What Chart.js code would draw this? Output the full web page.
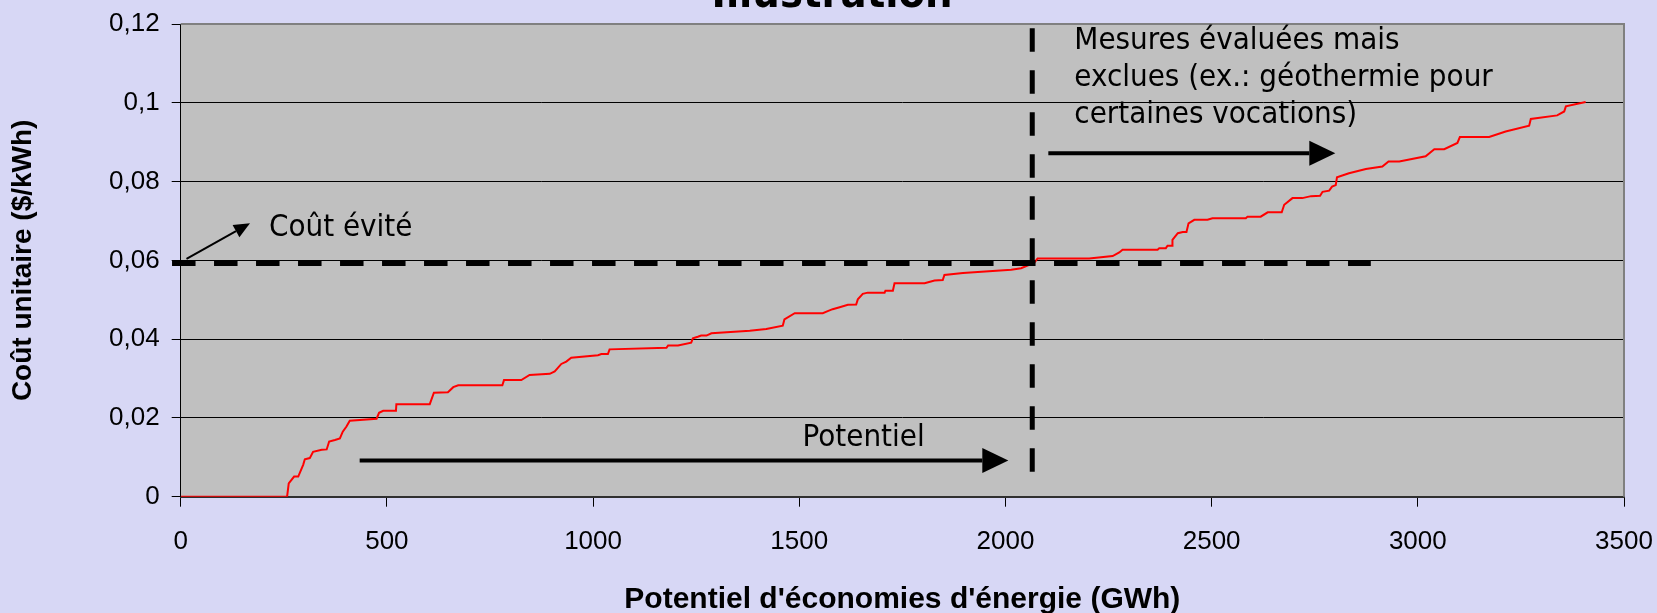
<!DOCTYPE html>
<html>
<head>
<meta charset="utf-8">
<title>Illustration</title>
<script src="https://cdn.jsdelivr.net/npm/chart.js@4.4.0/dist/chart.umd.min.js"></script>
<style>
  html, body { margin: 0; padding: 0; background: #d7d7f5; }
  #wrap { width: 1657px; height: 613px; }
</style>
</head>
<body>
<div id="wrap"><canvas id="chart" width="1657" height="613"></canvas></div>
<script>
// Supply curve: cumulative energy savings (GWh) vs unit cost ($/kWh)
const energyGWh = [0, 258, 262, 275, 285, 297, 301, 313, 321, 342, 354, 360, 374, 386, 393, 402, 410, 475, 481, 491,
  522, 523, 604, 614, 648, 661, 673, 780, 784, 826, 846, 895, 907, 923, 935, 947, 1012, 1020, 1036, 1040,
  1178, 1182, 1206, 1238, 1242, 1254, 1262, 1275, 1287, 1380, 1420, 1460, 1464, 1489, 1557, 1569, 1581, 1598, 1618, 1638,
  1642, 1654, 1666, 1707, 1709, 1727, 1731, 1804, 1828, 1848, 1852, 1880, 1897, 2014, 2038, 2070, 2078, 2203, 2260, 2276,
  2284, 2369, 2373, 2389, 2393, 2404, 2405, 2418, 2430, 2439, 2444, 2458, 2490, 2502, 2583, 2587, 2619, 2636, 2670, 2676,
  2696, 2720, 2741, 2763, 2769, 2785, 2792, 2801, 2804, 2833, 2874, 2914, 2929, 2955, 3019, 3040, 3064, 3096, 3102, 3173,
  3213, 3270, 3274, 3338, 3355, 3359, 3407];
const unitCost = [0, 0, 0.0034, 0.0051, 0.0051, 0.0081, 0.0095, 0.0098, 0.0114, 0.0119, 0.0120, 0.0140, 0.0144, 0.0148, 0.0165, 0.0178, 0.0193, 0.0198, 0.0213, 0.0218,
  0.0218, 0.0235, 0.0235, 0.0264, 0.0265, 0.0278, 0.0283, 0.0283, 0.0296, 0.0296, 0.0309, 0.0312, 0.0318, 0.0337, 0.0343, 0.0353, 0.0359, 0.0362, 0.0362, 0.0374,
  0.0378, 0.0384, 0.0384, 0.0391, 0.0402, 0.0406, 0.0409, 0.0409, 0.0415, 0.0421, 0.0426, 0.0434, 0.0450, 0.0466, 0.0466, 0.0471, 0.0476, 0.0481, 0.0487, 0.0488,
  0.0501, 0.0515, 0.0518, 0.0518, 0.0523, 0.0523, 0.0542, 0.0542, 0.0549, 0.0550, 0.0563, 0.0566, 0.0568, 0.0576, 0.0580, 0.0594, 0.0605, 0.0605, 0.0611, 0.0620,
  0.0627, 0.0627, 0.0631, 0.0631, 0.0637, 0.0637, 0.0652, 0.0669, 0.0672, 0.0672, 0.0694, 0.0703, 0.0703, 0.0707, 0.0707, 0.0711, 0.0711, 0.0722, 0.0722, 0.0741,
  0.0758, 0.0758, 0.0763, 0.0764, 0.0774, 0.0777, 0.0787, 0.0791, 0.0811, 0.0821, 0.0832, 0.0838, 0.0851, 0.0851, 0.0864, 0.0882, 0.0882, 0.0898, 0.0913, 0.0913,
  0.0927, 0.0942, 0.0959, 0.0968, 0.0978, 0.0991, 0.1002];

const xTickLabels = ['0', '500', '1000', '1500', '2000', '2500', '3000', '3500'];
const yTickLabels = ['0', '0,02', '0,04', '0,06', '0,08', '0,1', '0,12'];

const avoidedCost = 0.0593;     // horizontal dashed line
const potentialLimit = 2065;    // vertical dashed line

const annoFont = '"DejaVu Sans Condensed", "DejaVu Sans", sans-serif';
const axisFont = '"Liberation Sans", Arial, sans-serif';

// arrow with filled head, coordinates in pixels
function arrow(ctx, x1, y1, x2, y2, w, headLen, headHalf) {
  const a = Math.atan2(y2 - y1, x2 - x1);
  const bx = x2 - headLen * Math.cos(a), by = y2 - headLen * Math.sin(a);
  ctx.save();
  ctx.strokeStyle = '#000';
  ctx.fillStyle = '#000';
  ctx.lineWidth = w;
  ctx.beginPath();
  ctx.moveTo(x1, y1);
  ctx.lineTo(bx, by);
  ctx.stroke();
  ctx.beginPath();
  ctx.moveTo(x2, y2);
  ctx.lineTo(bx + headHalf * Math.sin(a), by - headHalf * Math.cos(a));
  ctx.lineTo(bx - headHalf * Math.sin(a), by + headHalf * Math.cos(a));
  ctx.closePath();
  ctx.fill();
  ctx.restore();
}

const decor = {
  id: 'decor',
  beforeDraw(chart) {
    const { ctx, chartArea: a } = chart;
    ctx.save();
    ctx.fillStyle = '#c0c0c0';
    ctx.fillRect(a.left, a.top, a.right - a.left, a.bottom - a.top);
    ctx.restore();
  },
  afterDatasetsDraw(chart) {
    const { ctx, chartArea: a } = chart;
    const x = chart.scales.x, y = chart.scales.y;
    ctx.save();
    // dashed lines
    ctx.strokeStyle = '#000';
    ctx.lineCap = 'butt';
    ctx.setLineDash([23.5, 18.5]);
    ctx.lineWidth = 6;
    const yc = y.getPixelForValue(avoidedCost);
    ctx.beginPath();
    ctx.moveTo(x.getPixelForValue(-21), yc);
    ctx.lineTo(x.getPixelForValue(2886), yc);
    ctx.stroke();
    ctx.lineWidth = 5;
    const xp = x.getPixelForValue(potentialLimit);
    ctx.beginPath();
    ctx.moveTo(xp, y.getPixelForValue(0.1189));
    ctx.lineTo(xp, y.getPixelForValue(0.0063));
    ctx.stroke();
    ctx.setLineDash([]);

    // top / right frame
    ctx.strokeStyle = '#808080';
    ctx.lineWidth = 2;
    ctx.beginPath();
    ctx.moveTo(a.left, a.top);
    ctx.lineTo(a.right, a.top);
    ctx.lineTo(a.right, a.bottom);
    ctx.stroke();

    // arrows
    arrow(ctx, x.getPixelForValue(14), y.getPixelForValue(0.0604), x.getPixelForValue(168), y.getPixelForValue(0.0694), 2, 16, 7);
    arrow(ctx, x.getPixelForValue(434), y.getPixelForValue(0.0092), x.getPixelForValue(2007), y.getPixelForValue(0.0092), 4, 26, 12.5);
    arrow(ctx, x.getPixelForValue(2104), y.getPixelForValue(0.0872), x.getPixelForValue(2800), y.getPixelForValue(0.0872), 4, 26, 12.5);

    // labels
    ctx.fillStyle = '#000';
    ctx.font = '31px ' + annoFont;
    ctx.textAlign = 'left';
    ctx.textBaseline = 'alphabetic';
    ctx.fillText('Coût évité', x.getPixelForValue(214), y.getPixelForValue(0.0663));
    ctx.fillText('Potentiel', x.getPixelForValue(1508), y.getPixelForValue(0.0128));
    const mx = x.getPixelForValue(2167);
    const my = y.getPixelForValue(0.1136);
    ctx.fillText('Mesures évaluées mais', mx, my);
    ctx.fillText('exclues (ex.: géothermie pour', mx, my + 37);
    ctx.fillText('certaines vocations)', mx, my + 74);

    // title, cut off at the top of the slide
    ctx.font = 'bold 43px ' + annoFont;
    ctx.textAlign = 'center';
    ctx.fillText('Illustration', 832, 7);
    ctx.restore();
  }
};

const points = energyGWh.map((e, i) => ({ x: e, y: unitCost[i] }));

new Chart(document.getElementById('chart'), {
  type: 'line',
  data: {
    datasets: [{
      data: points,
      borderColor: '#ff0000',
      borderWidth: 2,
      pointRadius: 0,
      tension: 0,
      fill: false
    }]
  },
  options: {
    responsive: false,
    animation: false,
    layout: { padding: { top: 24, right: 33, left: 0, bottom: 0 } },
    plugins: { legend: { display: false }, tooltip: { enabled: false } },
    scales: {
      x: {
        type: 'linear',
        min: 0,
        max: 3500,
        afterFit: s => { s.height = 116.3; s.paddingLeft = 0; s.paddingRight = 0; },
        ticks: {
          stepSize: 500,
          autoSkip: false,
          maxRotation: 0,
          padding: 20,
          color: '#000',
          font: { family: axisFont, size: 26 },
          callback: v => xTickLabels[Math.round(v / 500)]
        },
        grid: { drawOnChartArea: false, tickLength: 10, tickColor: '#000' },
        border: { color: '#303030', width: 2 },
        title: {
          display: true,
          text: "Potentiel d'économies d'énergie (GWh)",
          color: '#000',
          font: { family: axisFont, size: 30, weight: 'bold', lineHeight: 0.9 },
          padding: { top: 0, bottom: 0 }
        }
      },
      y: {
        min: 0,
        max: 0.12,
        afterFit: s => { s.width = 180.7; s.paddingTop = 0; s.paddingBottom = 0; },
        ticks: {
          stepSize: 0.02,
          padding: 12,
          color: '#000',
          font: { family: axisFont, size: 26 },
          callback: v => yTickLabels[Math.round(v / 0.02)]
        },
        grid: {
          color: c => (c.index === 6 ? 'rgba(0,0,0,0)' : '#000'),
          lineWidth: 1,
          tickLength: 9,
          tickColor: '#000'
        },
        border: { color: '#000', width: 1 },
        title: {
          display: true,
          text: 'Coût unitaire ($/kWh)',
          color: '#000',
          font: { family: axisFont, size: 28, weight: 'bold' },
          padding: { top: 6, bottom: 0 }
        }
      }
    }
  },
  plugins: [decor]
});
</script>
</body>
</html>
